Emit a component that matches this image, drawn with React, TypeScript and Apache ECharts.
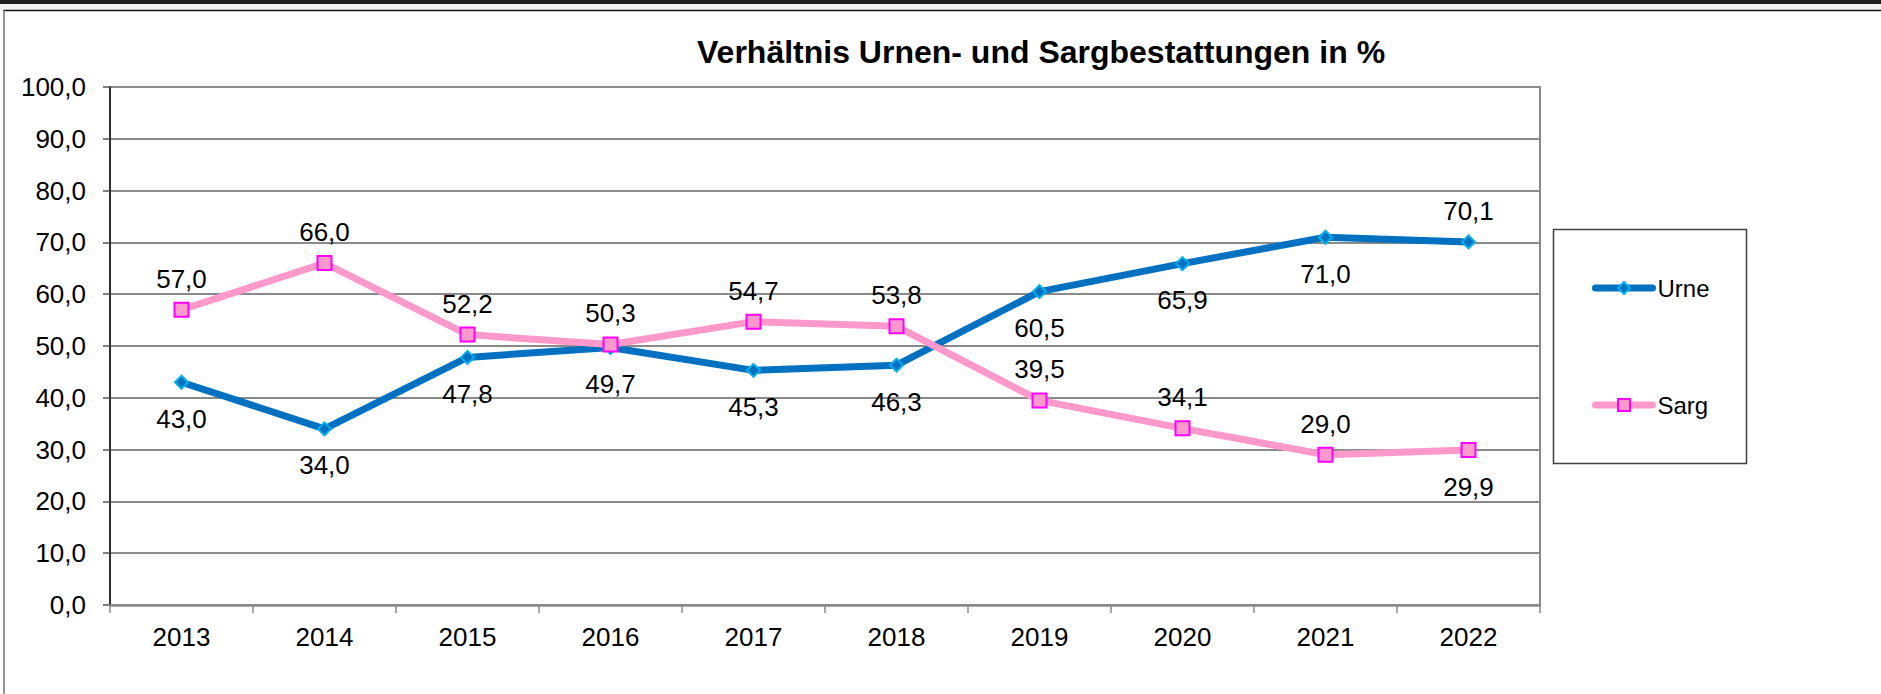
import React, { useEffect, useRef } from 'react';
import * as echarts from 'echarts';

const YEARS = ['2013', '2014', '2015', '2016', '2017', '2018', '2019', '2020', '2021', '2022'];
const URNE = [43.0, 34.0, 47.8, 49.7, 45.3, 46.3, 60.5, 65.9, 71.0, 70.1];
const SARG = [57.0, 66.0, 52.2, 50.3, 54.7, 53.8, 39.5, 34.1, 29.0, 29.9];
const SERIES_NAMES = ['Urne', 'Sarg'];
const TITLE = 'Verhältnis Urnen- und Sargbestattungen in %';

const FONT = '"Liberation Sans", Arial, sans-serif';
const fmt = (v: number) => v.toFixed(1).replace('.', ',');

export default function App() {
  const ref = useRef<HTMLDivElement>(null);
  useEffect(() => {
    if (!ref.current) return;
    const chart = echarts.init(ref.current, null, { renderer: 'svg' });
    const last = YEARS.length - 1;
    const labelBase = {
      show: true,
      color: '#000',
      fontSize: 26,
      fontFamily: FONT,
      formatter: (p: any) => fmt(p.value),
    };
    const urneData = URNE.map((v, i) => ({
      value: v,
      label: i === last ? { position: 'top', distance: 10 } : { position: 'bottom', distance: 16 },
    }));
    const sargData = SARG.map((v, i) => ({
      value: v,
      label: i === last ? { position: 'bottom', distance: 16 } : { position: 'top', distance: 10 },
    }));
    chart.setOption({
      animation: false,
      backgroundColor: '#fff',
      title: {
        text: TITLE,
        left: 697,
        top: 36,
        padding: 0,
        textStyle: { fontSize: 32, fontWeight: 'bold', fontFamily: FONT, color: '#000' },
      },
      graphic: [
        { type: 'rect', shape: { x: 0, y: 0, width: 1881, height: 4 }, style: { fill: '#1e1e1e' }, silent: true },
        { type: 'rect', shape: { x: 0, y: 4, width: 1881, height: 6 }, style: { fill: '#f2f2f2' }, silent: true },
        { type: 'line', shape: { x1: 3, y1: 10.5, x2: 1881, y2: 10.5 }, style: { stroke: '#111', lineWidth: 1.5 }, silent: true },
        { type: 'line', shape: { x1: 4, y1: 10, x2: 4, y2: 694 }, style: { stroke: '#777', lineWidth: 1.5 }, silent: true },
        { type: 'rect', shape: { x: 1553.5, y: 229.5, width: 193, height: 234 }, style: { fill: 'none', stroke: '#404040', lineWidth: 1.5 }, silent: true },
      ],
      legend: {
        data: SERIES_NAMES,
        orient: 'vertical',
        left: 1592,
        top: 276,
        padding: 0,
        itemGap: 93,
        itemWidth: 57,
        itemHeight: 15,
        lineStyle: { width: 7, cap: 'round' },
        textStyle: { fontSize: 24, fontFamily: FONT, color: '#000' },
      },
      grid: {
        left: 110,
        top: 87,
        width: 1430,
        height: 518,
        containLabel: false,
        outerBoundsMode: 'none',
        show: true,
        borderColor: '#8a8a8a',
        borderWidth: 2,
      },
      xAxis: {
        type: 'category',
        data: YEARS,
        boundaryGap: true,
        axisLine: { lineStyle: { color: '#8a8a8a', width: 2.5 } },
        axisTick: { show: true, length: 8, lineStyle: { color: '#8a8a8a', width: 1.5 } },
        axisLabel: { color: '#000', fontSize: 26, fontFamily: FONT, margin: 19 },
        splitLine: { show: false },
      },
      yAxis: {
        type: 'value',
        min: 0,
        max: 100,
        interval: 10,
        axisLine: { show: true, lineStyle: { color: '#111', width: 1.5 } },
        axisTick: { show: true, length: 7, lineStyle: { color: '#555', width: 1.5 } },
        axisLabel: { color: '#000', fontSize: 26, fontFamily: FONT, margin: 24, formatter: (v: number) => fmt(v) },
        splitLine: { show: true, lineStyle: { color: '#8a8a8a', width: 2 } },
      },
      series: [
        {
          name: SERIES_NAMES[0],
          type: 'line',
          data: urneData,
          symbol: 'diamond',
          symbolSize: 13,
          showAllSymbol: true,
          lineStyle: { color: '#0070C0', width: 7, cap: 'round', join: 'round' },
          itemStyle: { color: '#0070C0', borderColor: '#00B0F0', borderWidth: 2 },
          label: labelBase,
          emphasis: { disabled: true },
          z: 3,
        },
        {
          name: SERIES_NAMES[1],
          type: 'line',
          data: sargData,
          symbol: 'rect',
          symbolSize: 14,
          showAllSymbol: true,
          lineStyle: { color: '#FF99CC', width: 7, cap: 'round', join: 'round' },
          itemStyle: { color: '#FF99CC', borderColor: '#FF00FF', borderWidth: 2 },
          label: labelBase,
          emphasis: { disabled: true },
          z: 4,
        },
      ],
    });
    return () => chart.dispose();
  }, []);
  return (
    <div
      ref={ref}
      style={{ position: 'absolute', left: 0, top: 0, width: 1881, height: 694 }}
    />
  );
}
